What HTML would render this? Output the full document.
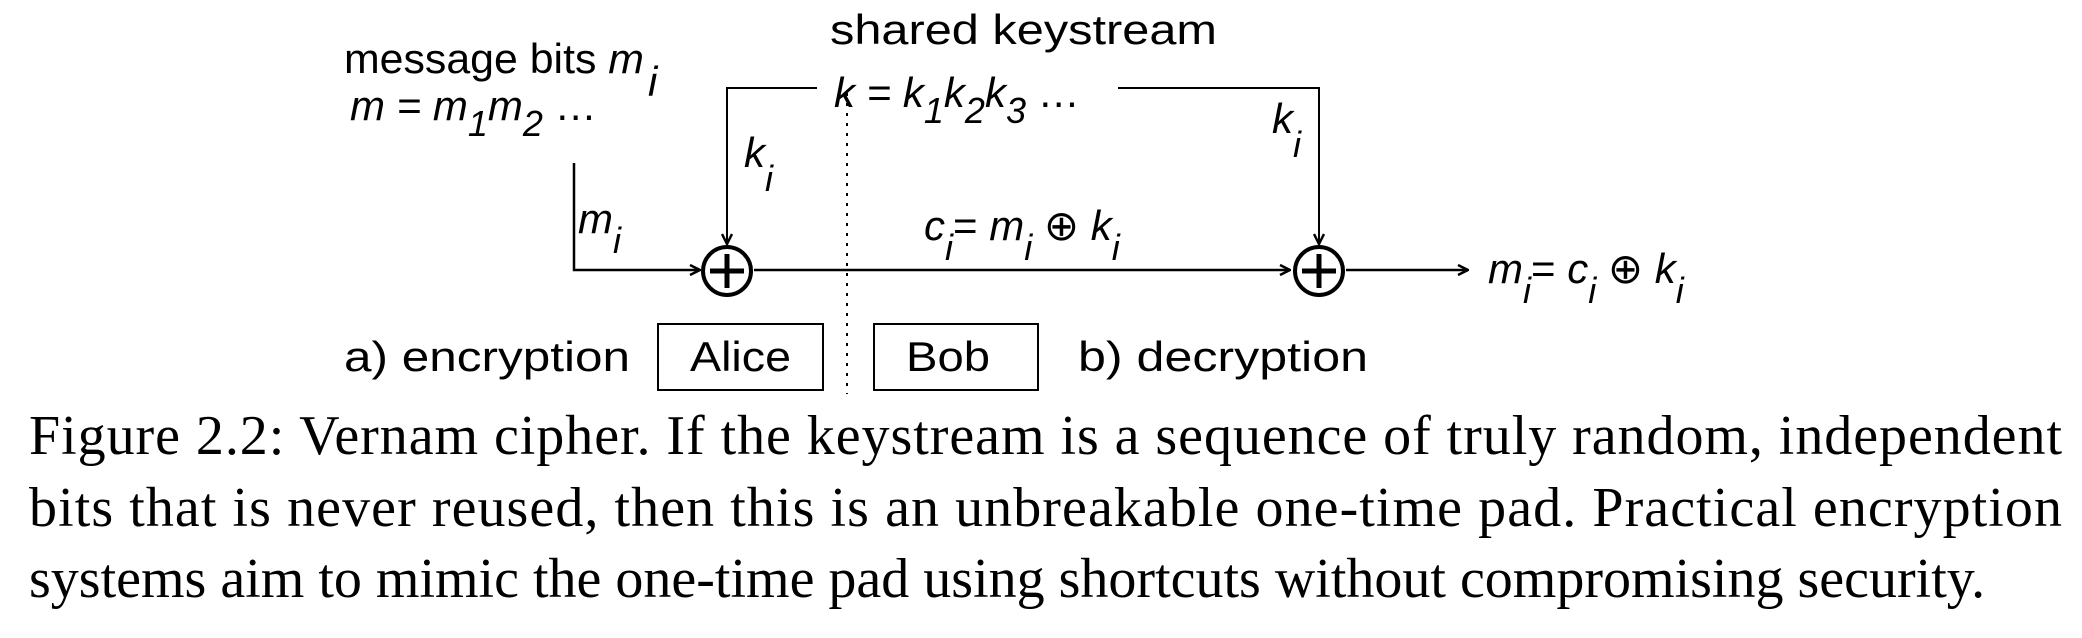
<!DOCTYPE html>
<html><head><meta charset="utf-8"><style>
html,body{margin:0;padding:0;background:#fff;}
body{width:2082px;height:638px;overflow:hidden;position:relative;}
svg{position:absolute;left:0;top:0;}
.d{font-family:"Liberation Sans",sans-serif;font-size:42px;fill:#000;}
.it{font-style:italic;}
.cap{font-family:"Liberation Serif",serif;font-size:56px;fill:#000;}
</style></head><body>
<svg width="2082" height="638">
<defs><marker id="ah" markerWidth="12" markerHeight="12" refX="11" refY="6" orient="auto" markerUnits="userSpaceOnUse"><path d="M1,1 L11,6 L1,11" fill="none" stroke="#000" stroke-width="2.5"/></marker></defs>
<text class="d" x="830" y="44" textLength="387" lengthAdjust="spacingAndGlyphs">shared keystream</text>
<text class="d" x="344" y="73" textLength="300" lengthAdjust="spacingAndGlyphs">message bits <tspan class="it">m</tspan></text>
<text class="d it" x="648" y="96" font-size="36">i</text>
<text class="d it" x="350" y="120" font-size="44">m = m<tspan dy="16" font-size="36">1</tspan><tspan dy="-16">m</tspan><tspan dy="16" font-size="36">2</tspan><tspan dy="-16" font-style="normal"> …</tspan></text>
<text class="d it" x="834" y="107" font-size="44">k = k<tspan dy="16" font-size="36">1</tspan><tspan dy="-16">k</tspan><tspan dy="16" font-size="36">2</tspan><tspan dy="-16">k</tspan><tspan dy="16" font-size="36">3</tspan><tspan dy="-16" font-style="normal"> …</tspan></text>
<g stroke="#000" stroke-width="2" fill="none">
<path d="M817,88 H727 V244" marker-end="url(#ah)"/>
<path d="M1118,88 H1319 V244" marker-end="url(#ah)"/>
<path d="M574,163 V270 H700" marker-end="url(#ah)" stroke-width="2.5"/>
<path d="M754,270 H1290" marker-end="url(#ah)" stroke-width="2.5"/>
<path d="M1346,270 H1468" marker-end="url(#ah)" stroke-width="2.5"/>
<line x1="847" y1="93" x2="847" y2="394" stroke-dasharray="3,7"/>
</g>
<g stroke="#000" fill="none">
<circle cx="727" cy="271" r="24" stroke-width="4"/><path d="M727,254 V288 M710,271 H744" stroke-width="5"/></g>
<g stroke="#000" fill="none">
<circle cx="1319" cy="271" r="24" stroke-width="4"/><path d="M1319,254 V288 M1302,271 H1336" stroke-width="5"/></g>
<text class="d it" x="744" y="167" font-size="44">k<tspan dy="24" font-size="36">i</tspan></text>
<text class="d it" x="1272" y="133" font-size="44">k<tspan dy="24" font-size="36">i</tspan></text>
<text class="d it" x="578" y="233" font-size="44">m<tspan dy="20" font-size="36">i</tspan></text>
<text class="d it" x="924" y="240" font-size="44">c<tspan dy="20" font-size="36">i</tspan><tspan dy="-20" font-style="normal">= </tspan><tspan>m</tspan><tspan dy="20" font-size="36">i</tspan><tspan dy="-20" font-style="normal"> ⊕ </tspan><tspan>k</tspan><tspan dy="20" font-size="36">i</tspan></text>
<text class="d it" x="1488" y="283" font-size="44">m<tspan dy="20" font-size="36">i</tspan><tspan dy="-20" font-style="normal">= </tspan><tspan>c</tspan><tspan dy="20" font-size="36">i</tspan><tspan dy="-20" font-style="normal"> ⊕ </tspan><tspan>k</tspan><tspan dy="20" font-size="36">i</tspan></text>
<text class="d" x="344" y="371" textLength="286" lengthAdjust="spacingAndGlyphs">a) encryption</text>
<rect x="658" y="324" width="165" height="66" fill="none" stroke="#000" stroke-width="2"/>
<text class="d" x="690" y="371" textLength="101" lengthAdjust="spacingAndGlyphs">Alice</text>
<rect x="874" y="324" width="164" height="66" fill="none" stroke="#000" stroke-width="2"/>
<text class="d" x="906" y="371" textLength="84" lengthAdjust="spacingAndGlyphs">Bob</text>
<text class="d" x="1078" y="371" textLength="290" lengthAdjust="spacingAndGlyphs">b) decryption</text>
<text class="cap" x="29" y="454" textLength="2033">Figure 2.2:  Vernam cipher. If the keystream is a sequence of truly random, independent</text>
<text class="cap" x="29" y="526" textLength="2033">bits that is never reused, then this is an unbreakable one-time pad. Practical encryption</text>
<text class="cap" x="29" y="597">systems aim to mimic the one-time pad using shortcuts without compromising security.</text>
</svg>
</body></html>
